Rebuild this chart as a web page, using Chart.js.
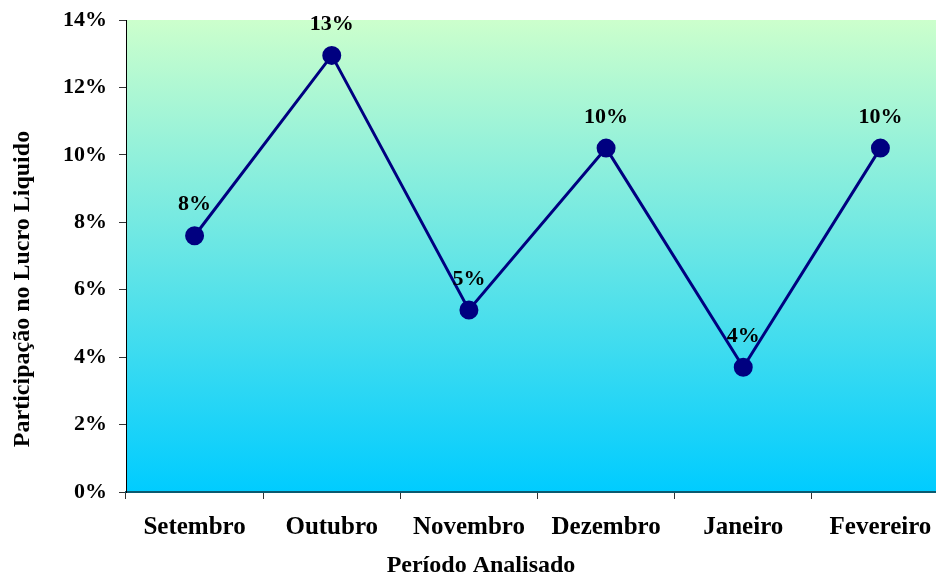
<!DOCTYPE html>
<html>
<head>
<meta charset="utf-8">
<script src="https://cdn.jsdelivr.net/npm/chart.js@4/dist/chart.umd.min.js"></script>
<style>
  html, body { margin: 0; padding: 0; background: #fff; overflow: hidden; }
  #wrap { position: absolute; left: 0; top: 0; width: 960px; height: 577px; }
</style>
</head>
<body>
<div id="wrap"><canvas id="c" width="960" height="577"></canvas></div>
<script>
const categories = ["Setembro", "Outubro", "Novembro", "Dezembro", "Janeiro", "Fevereiro"];
const participacao = [7.6, 12.95, 5.4, 10.2, 3.7, 10.2];
const dataLabels = ["8%", "13%", "5%", "10%", "4%", "10%"];
const yTickValues = [0, 2, 4, 6, 8, 10, 12, 14];
const xTitle = "Período Analisado";
const yTitle = "Participação no Lucro Liquido";

const FONT = '"Liberation Serif", "Times New Roman", serif';

const bgPlugin = {
  id: 'bg',
  beforeDraw(chart) {
    const { ctx, chartArea: a } = chart;
    const g = ctx.createLinearGradient(0, a.top, 0, a.bottom);
    g.addColorStop(0, '#ccffcc');
    g.addColorStop(1, '#00ccff');
    ctx.save();
    ctx.fillStyle = g;
    ctx.fillRect(a.left, a.top, a.right - a.left, a.bottom - a.top);
    ctx.restore();
  }
};

const labelPlugin = {
  id: 'labels',
  afterDatasetsDraw(chart) {
    const { ctx } = chart;
    const meta = chart.getDatasetMeta(0);
    ctx.save();
    ctx.font = 'bold 22px ' + FONT;
    ctx.fillStyle = '#000';
    ctx.textAlign = 'center';
    ctx.textBaseline = 'middle';
    meta.data.forEach((pt, i) => {
      ctx.fillText(dataLabels[i], pt.x, pt.y - 31);
    });
    ctx.restore();
  },
  afterDraw(chart) {
    const { ctx } = chart;
    ctx.save();
    ctx.font = 'bold 24px ' + FONT;
    ctx.fillStyle = '#000';
    ctx.textAlign = 'center';
    ctx.textBaseline = 'middle';
    ctx.fillText(xTitle, 481, 566);
    ctx.translate(23, 289);
    ctx.rotate(-Math.PI / 2);
    ctx.fillText(yTitle, 0, 0);
    ctx.restore();
  }
};

new Chart(document.getElementById('c'), {
  type: 'line',
  data: {
    labels: categories,
    datasets: [{
      data: participacao,
      borderColor: '#000080',
      backgroundColor: '#000080',
      borderWidth: 3,
      pointRadius: 8,
      pointHoverRadius: 8,
      pointBackgroundColor: '#000080',
      pointBorderColor: '#000080',
      tension: 0,
      fill: false
    }]
  },
  options: {
    responsive: false,
    animation: false,
    events: [],
    layout: { padding: { top: 20, right: 2, left: 0, bottom: 0 } },
    plugins: { legend: { display: false }, tooltip: { enabled: false } },
    scales: {
      x: {
        type: 'category',
        offset: true,
        grid: { offset: true, drawOnChartArea: false, drawTicks: true, tickLength: 7, color: '#333', lineWidth: 1 },
        border: { display: true, color: '#0a5a70', width: 2 },
        ticks: { color: '#000', font: { family: FONT, size: 25, weight: 'bold' }, padding: 14, maxRotation: 0, autoSkip: false },
        afterFit(s) { s.height = 85; s.paddingLeft = 0; s.paddingRight = 0; }
      },
      y: {
        min: 0, max: 14,
        afterBuildTicks(s) { s.ticks = yTickValues.map(v => ({ value: v })); },
        grid: { drawOnChartArea: false, drawTicks: true, tickLength: 7, color: '#333', lineWidth: 1 },
        border: { display: true, color: '#000', width: 1 },
        ticks: { color: '#000', font: { family: FONT, size: 22, weight: 'bold' }, padding: 12, callback: v => v + '%' },
        afterFit(s) { s.width = 126; s.paddingTop = 0; s.paddingBottom = 0; }
      }
    }
  },
  plugins: [bgPlugin, labelPlugin]
});
</script>
</body>
</html>
